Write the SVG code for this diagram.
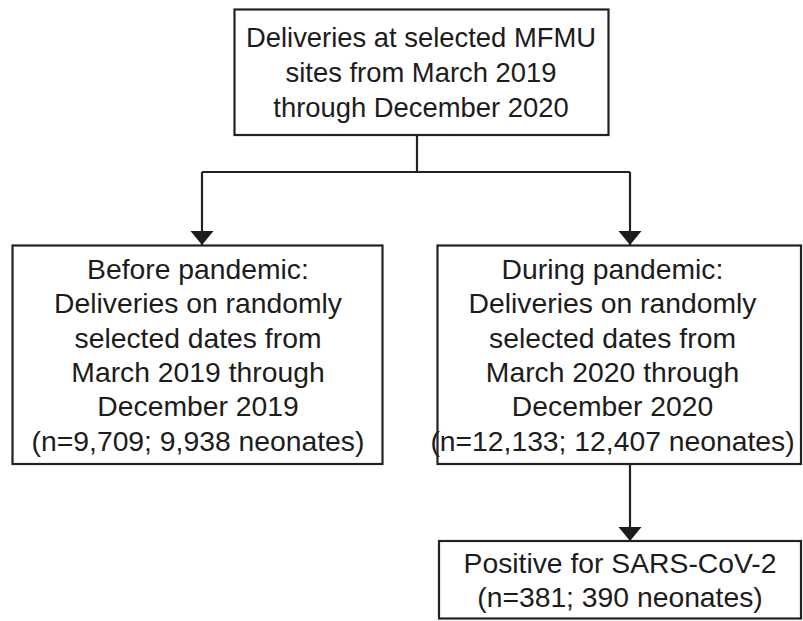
<svg xmlns="http://www.w3.org/2000/svg" width="803" height="621" viewBox="0 0 803 621">
<style>
.box{fill:#fff;stroke:#222;stroke-width:2.2}
.t{font-family:"Liberation Sans",Arial,sans-serif;font-size:28.3px;fill:#1c1c1c;text-anchor:middle}
.t1{font-size:27.4px}
.ln{fill:none;stroke:#222;stroke-width:2.2}
</style>
<defs>
<marker id="ah" markerUnits="userSpaceOnUse" markerWidth="15" markerHeight="24" refX="14" refY="12" orient="auto" viewBox="0 0 15 24">
<path d="M0,0.5 L14,12 L0,23.5 Z" fill="#1c1c1c"/>
</marker>
</defs>
<rect width="803" height="621" fill="#fff"/>
<g id="connectors">
<line class="ln" x1="417" y1="135" x2="417" y2="172"/>
<line class="ln" x1="202" y1="172" x2="630" y2="172"/>
<line class="ln" x1="202" y1="172" x2="202" y2="245" marker-end="url(#ah)"/>
<line class="ln" x1="630" y1="172" x2="630" y2="245" marker-end="url(#ah)"/>
<line class="ln" x1="630" y1="464" x2="630" y2="541" marker-end="url(#ah)"/>
</g>
<g id="node-all">
<rect class="box" x="234.5" y="9.5" width="374" height="125.5"/>
<text class="t t1" x="421" y="47">Deliveries at selected MFMU</text>
<text class="t t1" x="421" y="82">sites from March 2019</text>
<text class="t t1" x="421" y="117">through December 2020</text>
</g>
<g id="node-before">
<rect class="box" x="12.5" y="245.5" width="370" height="218.5"/>
<text class="t" x="198" y="279">Before pandemic:</text>
<text class="t" x="198" y="313.3">Deliveries on randomly</text>
<text class="t" x="198" y="347.6">selected dates from</text>
<text class="t" x="198" y="381.9">March 2019 through</text>
<text class="t" x="198" y="416.2">December 2019</text>
<text class="t" x="198" y="450.5">(n=9,709; 9,938 neonates)</text>
</g>
<g id="node-during">
<rect class="box" x="437.5" y="245.5" width="363.5" height="218.5"/>
<text class="t" x="612.5" y="279">During pandemic:</text>
<text class="t" x="612.5" y="313.3">Deliveries on randomly</text>
<text class="t" x="612.5" y="347.6">selected dates from</text>
<text class="t" x="612.5" y="381.9">March 2020 through</text>
<text class="t" x="612.5" y="416.2">December 2020</text>
<text class="t" x="612.5" y="450.5">(n=12,133; 12,407 neonates)</text>
</g>
<g id="node-positive">
<rect class="box" x="439" y="541" width="362" height="77.5"/>
<text class="t" x="620" y="573">Positive for SARS-CoV-2</text>
<text class="t" x="620" y="607">(n=381; 390 neonates)</text>
</g>
</svg>
